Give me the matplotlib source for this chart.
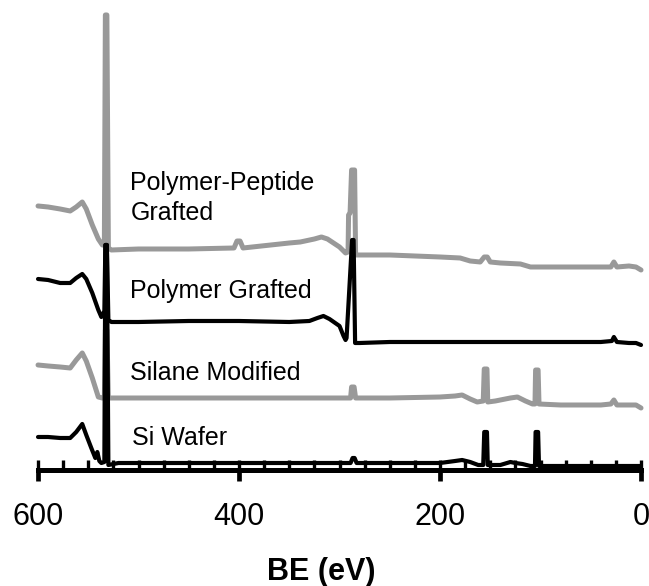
import matplotlib
matplotlib.use("Agg")
from matplotlib import pyplot as plt
from matplotlib.ticker import MultipleLocator

plt.rcParams['font.family'] = ['Liberation Sans', 'DejaVu Sans']

# XPS survey spectra, binding energy (eV) vs stacked intensity (a.u.)
be_pp = [600, 590, 578, 568, 562, 556, 552, 546, 540, 536, 534, 533, 531.5, 530, 527,
         500, 450, 405, 402, 399, 396, 350, 339, 325, 318, 312, 300, 294, 291.5, 291,
         289.5, 288, 285, 284, 280, 250, 200, 180, 170, 160, 156, 153, 150, 140, 120,
         110, 60, 30, 27, 24, 12, 5, 0]
int_pp = [265, 264, 262, 260, 264, 269, 262, 246, 232, 226, 226, 456, 456, 223, 221,
          222, 222, 223, 230, 230, 223, 228, 229, 232, 234, 232, 224, 218, 219, 256,
          258, 301, 301, 216, 216, 216, 214, 213, 210, 209, 214, 214, 209, 208, 207,
          204, 204, 204, 209, 204, 205, 204, 201]

be_pg = [600, 590, 578, 568, 562, 556, 552, 546, 540, 537, 534, 533, 531.5, 530, 527,
         500, 450, 400, 350, 330, 322, 316, 310, 300, 296, 294, 293, 287.5, 286, 284.5,
         280, 250, 200, 150, 100, 40, 29, 27, 24, 12, 5, 0]
int_pg = [192, 191, 188, 188, 193, 197, 192, 178, 161, 154, 160, 226, 226, 151, 149,
          149, 150, 150, 149, 150, 153, 155, 152, 145, 135, 131, 133, 231, 231, 128,
          128, 129, 129, 129, 129, 129, 130, 134, 129, 128, 128, 126]

be_sm = [600, 590, 578, 568, 562, 556, 552, 546, 540, 536, 534, 533, 531.5, 530, 500,
         400, 300, 289, 288, 285.5, 284, 250, 200, 185, 178, 170, 163, 157, 156, 153.3,
         152.5, 145, 130, 123, 115, 108, 105.5, 104.9, 102.4, 101.5, 80, 40, 30, 27,
         24, 12, 5, 0]
int_sm = [106, 105, 104, 103, 111, 118, 110, 93, 74, 73, 73, 141, 141, 73, 73,
          73, 73, 73, 84, 84, 73, 73, 74, 75, 76, 72, 69, 70, 102, 102,
          69, 70, 73, 74, 70, 67, 67, 101, 101, 67, 66, 66, 67, 71,
          66, 66, 66, 63]

be_si = [600, 590, 578, 568, 562, 556, 552, 547, 543, 541, 539, 537, 534, 533, 531.5,
         530, 520, 400, 300, 289, 287, 285, 283, 250, 200, 185, 178, 170, 162, 157,
         156, 153.3, 152.5, 140, 130, 125, 118, 110, 105.5, 104.9, 102.4, 101.5, 80,
         40, 0]
int_si = [34, 34, 33, 33, 39, 47, 36, 23, 13, 19, 10, 8, 9, 226, 226,
          6, 8, 8, 8, 8, 13, 13, 8, 8, 8, 10, 11, 9, 6, 6,
          39, 39, 6, 6, 9, 8, 7, 5, 5, 39, 39, 5, 5,
          5, 5]

gray = '#999999'

fig = plt.figure(figsize=(6.49, 5.86), dpi=100)
ax = fig.add_axes([0.0586, 0.1971, 0.9291, 0.7944])

kw = dict(solid_joinstyle='round', solid_capstyle='round', clip_on=False)
ax.plot(be_pp, int_pp, color=gray, lw=3.6, **kw)
ax.plot(be_pg, int_pg, color='black', lw=3.0, **kw)
ax.plot(be_sm, int_sm, color=gray, lw=3.6, **kw)
ax.plot(be_si, int_si, color='black', lw=3.0, **kw)

ax.set_xlim(600, 0)
ax.set_ylim(0.5, 466)

for s in ['left', 'right', 'top']:
    ax.spines[s].set_visible(False)
ax.spines['bottom'].set_linewidth(3.6)
ax.set_yticks([])

ax.xaxis.set_major_locator(MultipleLocator(200))
ax.xaxis.set_minor_locator(MultipleLocator(25))
ax.xaxis.remove_overlapping_locs = False
ax.tick_params(axis='x', which='major', direction='out', length=8, width=3.4,
               labelsize=22, pad=15)
ax.tick_params(axis='x', which='minor', direction='in', length=7, width=2.4)

tkw = dict(fontsize=18, ha='left', va='baseline')
ax.text(508, 281, 'Polymer-Peptide', **tkw)
ax.text(508, 251, 'Grafted', **tkw)
ax.text(508, 173, 'Polymer Grafted', **tkw)
ax.text(508, 91, 'Silane Modified', **tkw)
ax.text(506, 26, 'Si Wafer', **tkw)

fig.text(321 / 649, 1 - 572 / 586, 'BE (eV)', fontsize=22, fontweight='bold',
         ha='center', va='center')

fig.savefig('out.png', dpi=100)
